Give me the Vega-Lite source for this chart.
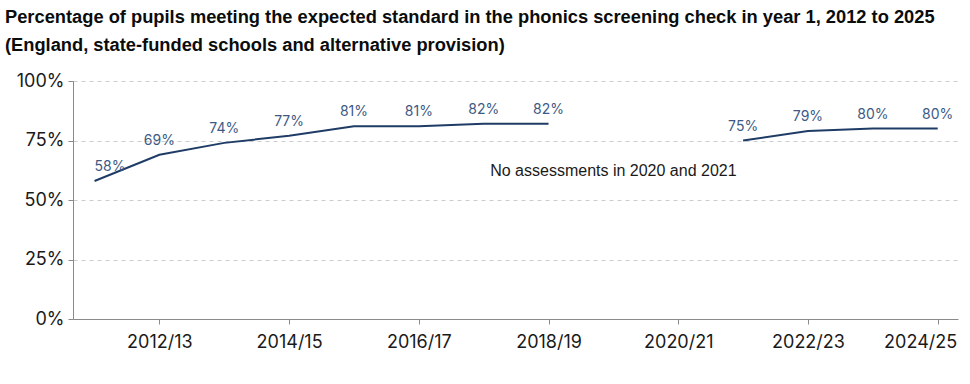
{
  "$schema": "https://vega.github.io/schema/vega-lite/v6.json",
  "width": 885,
  "height": 238,
  "autosize": {"type": "none"},
  "padding": {"left": 73, "top": 81, "right": 12, "bottom": 65},
  "background": "white",
  "title": {
    "text": ["Percentage of pupils meeting the expected standard in the phonics screening check in year 1, 2012 to 2025", "(England, state-funded schools and alternative provision)"],
    "anchor": "start",
    "frame": "group",
    "dx": -68,
    "font": "Liberation Sans",
    "fontSize": 18.3,
    "fontWeight": "bold",
    "color": "#0b0c0c",
    "lineHeight": 28,
    "offset": 16.5
  },
  "config": {
    "view": {"stroke": null},
    "axis": {
      "labelFont": "Inter",
      "labelFontSize": 18,
      "labelColor": "#1a1a1a",
      "domainColor": "#8a8a8a",
      "tickColor": "#8a8a8a",
      "tickSize": 5
    }
  },
  "datasets": {
    "phonics": [
      {"year": 2011, "pct": 58, "period": "before"},
      {"year": 2012, "pct": 69, "period": "before"},
      {"year": 2013, "pct": 74, "period": "before"},
      {"year": 2014, "pct": 77, "period": "before"},
      {"year": 2015, "pct": 81, "period": "before"},
      {"year": 2016, "pct": 81, "period": "before"},
      {"year": 2017, "pct": 82, "period": "before"},
      {"year": 2018, "pct": 82, "period": "before"},
      {"year": 2021, "pct": 75, "period": "after"},
      {"year": 2022, "pct": 79, "period": "after"},
      {"year": 2023, "pct": 80, "period": "after"},
      {"year": 2024, "pct": 80, "period": "after"}
    ],
    "note": [
      {"year": 2019, "pct": 62, "text": "No assessments in 2020 and 2021"}
    ]
  },
  "layer": [
    {
      "data": {"name": "phonics"},
      "mark": {"type": "line", "color": "#1f3c66", "strokeWidth": 2},
      "encoding": {
        "x": {
          "field": "year",
          "type": "quantitative",
          "scale": {"domain": [2010.668, 2024.313], "nice": false, "zero": false},
          "axis": {
            "title": null,
            "values": [2012, 2014, 2016, 2018, 2020, 2022, 2024],
            "labelExpr": "datum.value + '/' + ((datum.value + 1) % 100)",
            "grid": false,
            "labelPadding": 9,
            "labelFlush": false,
            "labelAlign": {"expr": "datum.value == 2024 ? 'right' : 'center'"},
            "labelOffset": {"expr": "datum.value == 2024 ? 19 : 0"}
          }
        },
        "y": {
          "field": "pct",
          "type": "quantitative",
          "scale": {"domain": [0, 100], "nice": false},
          "axis": {
            "title": null,
            "values": [0, 25, 50, 75, 100],
            "labelExpr": "datum.value + '%'",
            "grid": true,
            "gridDash": [4, 4],
            "gridColor": "#cccccc",
            "labelPadding": 4
          }
        },
        "detail": {"field": "period"}
      }
    },
    {
      "data": {"name": "phonics"},
      "transform": [{"filter": "datum.year != 2011"}, {"calculate": "datum.pct + '%'", "as": "lab"}],
      "mark": {"type": "text", "font": "Inter", "fontSize": 14, "color": "#3d5a85", "dy": -14, "align": "center", "baseline": "middle"},
      "encoding": {
        "x": {"field": "year", "type": "quantitative"},
        "y": {"field": "pct", "type": "quantitative"},
        "text": {"field": "lab"}
      }
    },
    {
      "data": {"name": "phonics"},
      "transform": [{"filter": "datum.year == 2011"}, {"calculate": "datum.pct + '%'", "as": "lab"}],
      "mark": {"type": "text", "font": "Inter", "fontSize": 14, "color": "#3d5a85", "dy": -14, "align": "left", "baseline": "middle"},
      "encoding": {
        "x": {"field": "year", "type": "quantitative"},
        "y": {"field": "pct", "type": "quantitative"},
        "text": {"field": "lab"}
      }
    },
    {
      "data": {"name": "note"},
      "mark": {"type": "text", "font": "Liberation Sans", "fontSize": 16, "color": "#1a1a1a", "align": "center", "baseline": "middle"},
      "encoding": {
        "x": {"field": "year", "type": "quantitative"},
        "y": {"field": "pct", "type": "quantitative"},
        "text": {"field": "text"}
      }
    }
  ]
}
